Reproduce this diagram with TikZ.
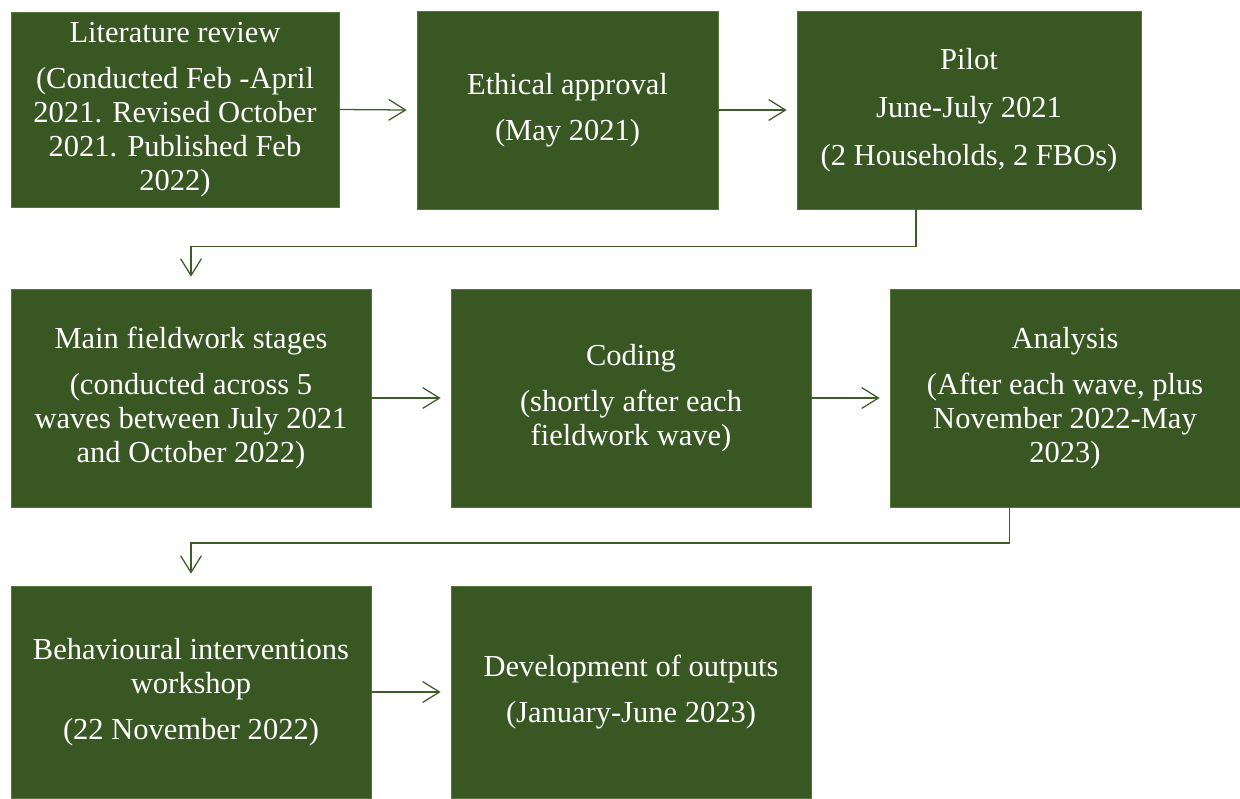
\documentclass[tikz,border=0pt]{standalone}
\usepackage{fontspec}
\setmainfont{Liberation Serif}
\usetikzlibrary{arrows.meta}
\definecolor{boxgreen}{RGB}{56,87,35}
\definecolor{edgegreen}{RGB}{84,118,60}
\definecolor{linegreen}{RGB}{60,92,42}

\tikzset{
  stage/.style={draw=edgegreen, line width=0.4pt, fill=boxgreen, text=white, align=center,
    inner sep=0pt, font=\fontsize{21.7}{24.2}\selectfont},
  flow/.style={draw=linegreen, line width=0.9pt, -{Straight Barb[length=0.42cm, width=0.52cm, line width=0.9pt]}},
}

\begin{document}
\begin{tikzpicture}[x=0.025cm, y=-0.025cm]
\useasboundingbox (0,0) rectangle (1240,798);

% First row
\node[stage, minimum width=8.2cm, minimum height=4.875cm] (litreview) at (175,109.5)
  {Literature review\\[0.3cm] (Conducted Feb -April\\ 2021. Revised October\\ 2021. Published Feb\\ 2022)};
\node[stage, minimum width=7.525cm, minimum height=4.95cm] (ethics) at (567.5,110)
  {Ethical approval\\[0.3cm] (May 2021)};
\node[stage, minimum width=8.6cm, minimum height=4.95cm] (pilot) at (969,110)
  {Pilot\\[0.35cm] June-July 2021\\[0.35cm] (2 Households, 2 FBOs)};

% Second row
\node[stage, minimum width=9cm, minimum height=5.45cm] (fieldwork) at (191,398)
  {Main fieldwork stages\\[0.3cm] (conducted across 5\\ waves between July 2021\\ and October 2022)};
\node[stage, minimum width=9cm, minimum height=5.45cm] (coding) at (631,398)
  {Coding\\[0.3cm] (shortly after each\\ fieldwork wave)};
\node[stage, minimum width=8.75cm, minimum height=5.45cm] (analysis) at (1065,398)
  {Analysis\\[0.3cm] (After each wave, plus\\ November 2022-May\\ 2023)};

% Third row
\node[stage, minimum width=9cm, minimum height=5.3cm] (workshop) at (191,692)
  {Behavioural interventions\\ workshop\\[0.3cm] (22 November 2022)};
\node[stage, minimum width=9cm, minimum height=5.3cm] (outputs) at (631,692)
  {Development of outputs\\[0.3cm] (January-June 2023)};

% Turning points of the row connectors
\coordinate (turnone) at (916,246.5);
\coordinate (turntwo) at (1009.5,543);

% Connectors
\draw[flow] (litreview.east) -- ([xshift=-0.25cm]ethics.west);
\draw[flow] (ethics.east) -- ([xshift=-0.25cm]pilot.west);
\draw[flow] (turnone |- pilot.south) -- (turnone) -| ([yshift=0.3cm]fieldwork.north);
\draw[flow] (fieldwork.east) -- ([xshift=-0.25cm]coding.west);
\draw[flow] (coding.east) -- ([xshift=-0.25cm]analysis.west);
\draw[flow] (turntwo |- analysis.south) -- (turntwo) -| ([yshift=0.3cm]workshop.north);
\draw[flow] (workshop.east) -- ([xshift=-0.25cm]outputs.west);
\end{tikzpicture}
\end{document}
